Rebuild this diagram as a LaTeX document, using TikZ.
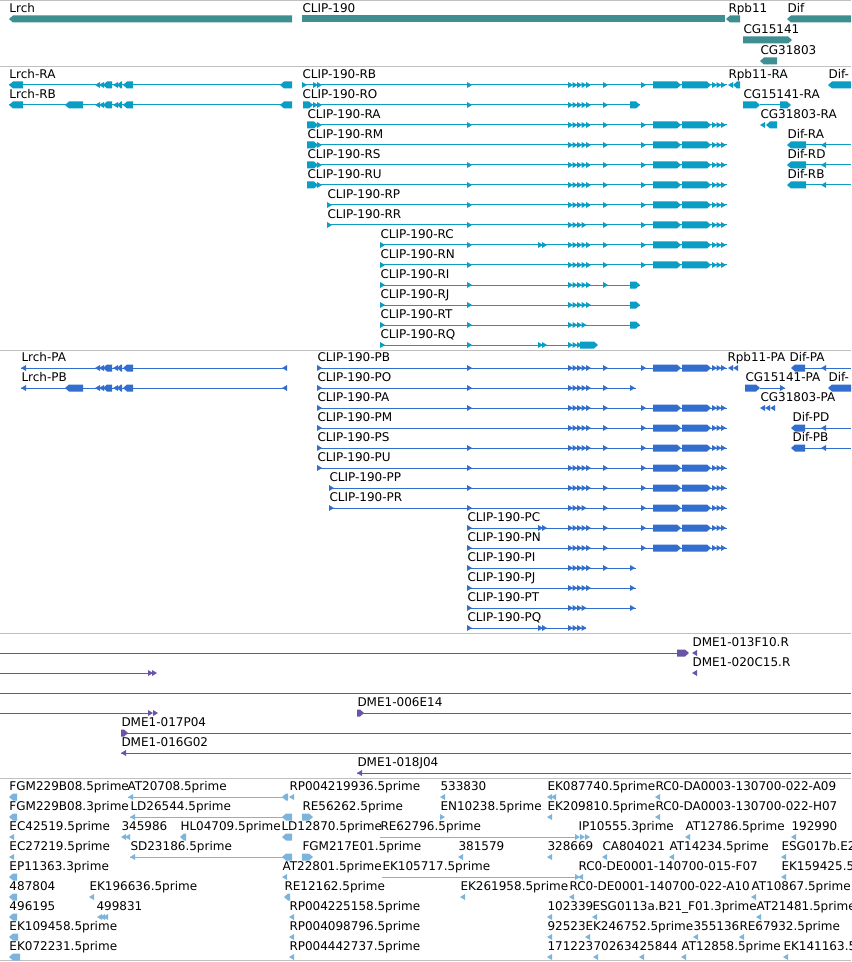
\documentclass[tikz,border=0pt]{standalone}
\usepackage{fontspec}
\setmainfont{DejaVu Sans}

\definecolor{genecol}{RGB}{62,142,146}
\definecolor{trcol}{RGB}{10,158,196}
\definecolor{prcol}{RGB}{50,110,205}
\definecolor{dmecol}{RGB}{106,84,168}
\definecolor{estcol}{RGB}{125,180,220}
\definecolor{sepcol}{RGB}{192,192,192}

\tikzset{lbl/.style={anchor=base west, inner sep=0pt, font=\fontsize{9}{11}\selectfont}}

% small strand arrows and exons (x in px, y in px)
\newcommand{\fw}[2]{\fill (#1,#2-3) -- (#1+5,#2) -- (#1,#2+3) -- cycle;}
\newcommand{\rv}[2]{\fill (#1,#2) -- (#1+5,#2-3) -- (#1+5,#2+3) -- cycle;}
\newcommand{\exR}[3]{\fill (#1,#3-3.5) -- (#2-4,#3-3.5) -- (#2,#3) -- (#2-4,#3+3.5) -- (#1,#3+3.5) -- cycle;}
\newcommand{\exL}[3]{\fill (#1,#3) -- (#1+4,#3-3.5) -- (#2,#3-3.5) -- (#2,#3+3.5) -- (#1+4,#3+3.5) -- cycle;}
\newcommand{\clus}[3]{\foreach \k in {1,...,#3}{\fw{#1+4.5*\k-4.5}{#2}}}
\newcommand{\cliptail}[1]{\fw{603}{#1}\fw{641}{#1}\exR{653}{681}{#1}\exR{682}{711}{#1}\clus{712}{#1}{3}}
\newcommand{\lrchmid}[1]{\rv{95}{#1}\rv{99}{#1}\exL{103}{112}{#1}\rv{113}{#1}\exL{117}{122}{#1}\exL{123}{133}{#1}}

\begin{document}
\begin{tikzpicture}[x=0.75pt,y=-0.75pt,line width=0.75pt]
\useasboundingbox (0,0) rectangle (851,962);
\fill[white] (0,0) rectangle (851,962);
\clip (0,0) rectangle (851,962);

% track separators
\draw[sepcol] (0,1) -- (851,1);
\draw[sepcol] (0,66.5) -- (851,66.5);
\draw[sepcol] (0,350) -- (851,350);
\draw[sepcol] (0,633) -- (851,633);
\draw[sepcol] (0,778) -- (851,778);
\draw[sepcol] (0,960) -- (851,960);

% genes
\begin{scope}[fill=genecol]
\node[lbl] (gLrch) at (9,12.5) {Lrch};
\node[lbl] (gClip) at (302,12.5) {CLIP-190};
\node[lbl] (gRpb) at (728,12.5) {Rpb11};
\node[lbl] (gDif) at (787,12.5) {Dif};
\node[lbl] (gCG15) at (743,33.5) {CG15141};
\node[lbl] (gCG31) at (760,54.5) {CG31803};
\exL{9}{292}{19}
\fill (302,15.5) rectangle (725,22.5);
\exL{726}{740}{19}
\exL{787}{860}{19}
\exR{743}{792}{40}
\exL{760}{777}{61}
\end{scope}

% transcripts
\begin{scope}[fill=trcol, draw=trcol]
\node[lbl] (tLrchA) at (9,78.5) {Lrch-RA};
\draw (9,85) -- (292,85); \exL{9}{23}{85} \lrchmid{85} \exL{280}{292}{85}
\node[lbl] (tLrchB) at (9,98.5) {Lrch-RB};
\draw (9,105) -- (292,105); \exL{9}{23}{105} \exL{65}{83}{105} \lrchmid{105} \exL{280}{292}{105}

\node[lbl] (tRB) at (302,78.5) {CLIP-190-RB};
\draw (302,85) -- (727,85); \fw{302}{85} \fw{313}{85}\fw{317}{85} \fw{467}{85} \clus{568}{85}{5} \cliptail{85}
\node[lbl] (tRO) at (302,98.5) {CLIP-190-RO};
\draw (303,105) -- (640,105); \exR{303}{313}{105} \fw{313}{105}\fw{317}{105} \fw{467}{105} \clus{568}{105}{5} \fw{603}{105} \exR{630}{640}{105}
\node[lbl] (tRA) at (307,118.5) {CLIP-190-RA};
\draw (307,125) -- (727,125); \exR{307}{318}{125} \fw{317}{125} \fw{467}{125} \clus{568}{125}{5} \cliptail{125}
\node[lbl] (tRM) at (307,138.5) {CLIP-190-RM};
\draw (307,145) -- (727,145); \exR{307}{318}{145} \fw{317}{145} \clus{568}{145}{5} \cliptail{145}
\node[lbl] (tRS) at (307,158.5) {CLIP-190-RS};
\draw (307,165) -- (727,165); \exR{307}{318}{165} \fw{317}{165} \fw{467}{165} \clus{568}{165}{5} \cliptail{165}
\node[lbl] (tRU) at (307,178.5) {CLIP-190-RU};
\draw (307,185) -- (727,185); \exR{307}{318}{185} \fw{317}{185} \fw{467}{185} \clus{568}{185}{5} \cliptail{185}
\node[lbl] (tRP) at (327,198.5) {CLIP-190-RP};
\draw (327,205) -- (727,205); \fw{327}{205} \fw{467}{205} \clus{568}{205}{5} \cliptail{205}
\node[lbl] (tRR) at (327,218.5) {CLIP-190-RR};
\draw (327,225) -- (727,225); \fw{327}{225} \fw{467}{225} \clus{568}{225}{4} \cliptail{225}
\node[lbl] (tRC) at (380,238.5) {CLIP-190-RC};
\draw (380,245) -- (727,245); \fw{380}{245} \fw{467}{245} \fw{538}{245}\fw{542}{245} \clus{568}{245}{5} \cliptail{245}
\node[lbl] (tRN) at (380,258.5) {CLIP-190-RN};
\draw (380,265) -- (727,265); \fw{380}{265} \fw{467}{265} \clus{568}{265}{5} \cliptail{265}
\node[lbl] (tRI) at (380,278.5) {CLIP-190-RI};
\draw (380,285) -- (640,285); \fw{380}{285} \fw{467}{285} \clus{568}{285}{5} \fw{603}{285} \exR{630}{640}{285}
\node[lbl] (tRJ) at (380,298.5) {CLIP-190-RJ};
\draw (380,305) -- (640,305); \fw{380}{305} \fw{467}{305} \clus{568}{305}{5} \exR{630}{640}{305}
\node[lbl] (tRT) at (380,318.5) {CLIP-190-RT};
\draw (380,325) -- (640,325); \fw{380}{325} \fw{467}{325} \clus{568}{325}{4} \exR{630}{640}{325}
\node[lbl] (tRQ) at (380,338.5) {CLIP-190-RQ};
\draw (380,345) -- (590,345); \fw{380}{345} \fw{467}{345} \fw{538}{345}\fw{542}{345} \clus{568}{345}{3} \exR{580}{598}{345}

\node[lbl] (tRpb) at (728,78.5) {Rpb11-RA};
\rv{728}{85}\exL{733}{740}{85}
\node[lbl] (tDifX) at (828,78.5) {Dif-};
\exL{828}{860}{85}
\node[lbl] (tCG15) at (743,98.5) {CG15141-RA};
\draw (760,105) -- (785,105); \exR{743}{760}{105} \exR{780}{791}{105}
\node[lbl] (tCG31) at (760,118.5) {CG31803-RA};
\rv{760}{125}\exL{766}{777}{125}
\node[lbl] (tDifA) at (787,138.5) {Dif-RA};
\draw (806,145) -- (851,145); \exL{787}{806}{145} \rv{821}{145}
\node[lbl] (tDifD) at (787,158.5) {Dif-RD};
\draw (806,165) -- (851,165); \exL{787}{806}{165} \rv{821}{165}
\node[lbl] (tDifB) at (787,178.5) {Dif-RB};
\draw (806,185) -- (851,185); \exL{787}{806}{185} \rv{821}{185}
\end{scope}

% proteins
\begin{scope}[fill=prcol, draw=prcol]
\node[lbl] (pLrchA) at (21,361.5) {Lrch-PA};
\draw (21,368) -- (287,368); \rv{21}{368} \lrchmid{368} \rv{282}{368}
\node[lbl] (pLrchB) at (21,381.5) {Lrch-PB};
\draw (21,388) -- (287,388); \rv{21}{388} \exL{65}{83}{388} \lrchmid{388} \rv{282}{388}

\node[lbl] (pPB) at (317,361.5) {CLIP-190-PB};
\draw (317,368) -- (727,368); \fw{317}{368} \fw{467}{368} \clus{568}{368}{5} \cliptail{368}
\node[lbl] (pPO) at (317,381.5) {CLIP-190-PO};
\draw (317,388) -- (636,388); \fw{317}{388} \fw{467}{388} \clus{568}{388}{5} \fw{603}{388} \fw{630}{388}
\node[lbl] (pPA) at (317,401.5) {CLIP-190-PA};
\draw (317,408) -- (727,408); \fw{317}{408} \fw{467}{408} \clus{568}{408}{5} \cliptail{408}
\node[lbl] (pPM) at (317,421.5) {CLIP-190-PM};
\draw (317,428) -- (727,428); \fw{317}{428} \clus{568}{428}{5} \cliptail{428}
\node[lbl] (pPS) at (317,441.5) {CLIP-190-PS};
\draw (317,448) -- (727,448); \fw{317}{448} \fw{467}{448} \clus{568}{448}{5} \cliptail{448}
\node[lbl] (pPU) at (317,461.5) {CLIP-190-PU};
\draw (317,468) -- (727,468); \fw{317}{468} \fw{467}{468} \clus{568}{468}{5} \cliptail{468}
\node[lbl] (pPP) at (329,481.5) {CLIP-190-PP};
\draw (329,488) -- (727,488); \fw{329}{488} \fw{467}{488} \clus{568}{488}{5} \cliptail{488}
\node[lbl] (pPR) at (329,501.5) {CLIP-190-PR};
\draw (329,508) -- (727,508); \fw{329}{508} \fw{467}{508} \clus{568}{508}{4} \cliptail{508}
\node[lbl] (pPC) at (467,521.5) {CLIP-190-PC};
\draw (467,528) -- (727,528); \fw{467}{528} \fw{538}{528}\fw{542}{528} \clus{568}{528}{5} \cliptail{528}
\node[lbl] (pPN) at (467,541.5) {CLIP-190-PN};
\draw (467,548) -- (727,548); \fw{467}{548} \clus{568}{548}{5} \cliptail{548}
\node[lbl] (pPI) at (467,561.5) {CLIP-190-PI};
\draw (467,568) -- (636,568); \fw{467}{568} \clus{568}{568}{5} \fw{603}{568} \fw{630}{568}
\node[lbl] (pPJ) at (467,581.5) {CLIP-190-PJ};
\draw (467,588) -- (636,588); \fw{467}{588} \clus{568}{588}{5} \fw{630}{588}
\node[lbl] (pPT) at (467,601.5) {CLIP-190-PT};
\draw (467,608) -- (636,608); \fw{467}{608} \clus{568}{608}{4} \fw{630}{608}
\node[lbl] (pPQ) at (467,621.5) {CLIP-190-PQ};
\draw (467,628) -- (586,628); \fw{467}{628} \fw{538}{628}\fw{542}{628} \clus{568}{628}{4}

\node[lbl] (pRpb) at (727,361.5) {Rpb11-PA};
\rv{728}{368}\rv{733}{368}
\node[lbl] (pDifA) at (789,361.5) {Dif-PA};
\draw (805,368) -- (851,368); \exL{791}{805}{368} \rv{821}{368}
\node[lbl] (pCG15) at (745,381.5) {CG15141-PA};
\draw (760,388) -- (785,388); \exR{745}{760}{388} \fw{780}{388}
\node[lbl] (pDifX) at (828,381.5) {Dif-};
\exL{828}{860}{388}
\node[lbl] (pCG31) at (760,401.5) {CG31803-PA};
\rv{760}{408}\rv{765}{408}\rv{770}{408}
\node[lbl] (pDifD) at (792,421.5) {Dif-PD};
\draw (805,428) -- (851,428); \exL{791}{805}{428} \rv{821}{428}
\node[lbl] (pDifB) at (792,441.5) {Dif-PB};
\draw (805,448) -- (851,448); \exL{791}{805}{448} \rv{821}{448}
\end{scope}

% BAC ends
\begin{scope}[fill=dmecol, draw=dmecol]
\draw (0,653) -- (678,653); \exR{677}{689}{653} \rv{692}{653}
\node[lbl] (b013) at (692,646.5) {DME1-013F10.R};
\node[lbl] (b020) at (692,666.5) {DME1-020C15.R};
\rv{692}{673}
\draw (0,673) -- (150,673); \fw{148}{673}\fw{152}{673}
\draw (0,693) -- (851,693);
\draw (0,713) -- (150,713); \fw{148}{713}\fw{153}{713}
\node[lbl] (b006) at (357,706.5) {DME1-006E14};
\draw (357,713) -- (851,713); \exR{357}{364}{713}
\node[lbl] (b017) at (121,726.5) {DME1-017P04};
\draw (121,733) -- (851,733); \exR{121}{128}{733}
\node[lbl] (b016) at (121,746.5) {DME1-016G02};
\draw (121,753) -- (851,753); \rv{121}{753}
\node[lbl] (b018) at (357,766.5) {DME1-018J04};
\draw (357,773) -- (851,773); \rv{357}{773}
\end{scope}

% ESTs
\begin{scope}[fill=estcol, draw=estcol]
\node[lbl] (e11) at (9,790.5) {FGM229B08.5prime};
\node[lbl] (e12) at (127,790.5) {AT20708.5prime};
\node[lbl] (e13) at (289,790.5) {RP004219936.5prime};
\node[lbl] (e14) at (440,790.5) {533830};
\node[lbl] (e15) at (547,790.5) {EK087740.5prime};
\node[lbl] (e16) at (655,790.5) {RC0-DA0003-130700-022-A09};
\exL{9}{17}{797} \draw (128,797) -- (287,797); \rv{128}{797} \exL{282}{288}{797} \rv{289}{797}
\rv{440}{797} \rv{547}{797}\rv{551}{797} \rv{655}{797}

\node[lbl] (e21) at (9,810.5) {FGM229B08.3prime};
\node[lbl] (e22) at (130,810.5) {LD26544.5prime};
\node[lbl] (e23) at (302,810.5) {RE56262.5prime};
\node[lbl] (e24) at (440,810.5) {EN10238.5prime};
\node[lbl] (e25) at (547,810.5) {EK209810.5prime};
\node[lbl] (e26) at (655,810.5) {RC0-DA0003-130700-022-H07};
\exL{9}{17}{817} \draw (130,817) -- (292,817); \rv{130}{817} \exL{282}{292}{817} \exR{302}{313}{817}
\fw{440}{817} \rv{547}{817} \rv{655}{817}

\node[lbl] (e31) at (9,830.5) {EC42519.5prime};
\node[lbl] (e32) at (121,830.5) {345986};
\node[lbl] (e33) at (180,830.5) {HL04709.5prime};
\node[lbl] (e34) at (281,830.5) {LD12870.5prime};
\node[lbl] (e35) at (380,830.5) {RE62796.5prime};
\node[lbl] (e36) at (578,830.5) {IP10555.3prime};
\node[lbl] (e37) at (685,830.5) {AT12786.5prime};
\node[lbl] (e38) at (791,830.5) {192990};
\rv{9}{837} \rv{121}{837}\rv{125}{837} \exL{180}{186}{837} \exL{282}{292}{837}
\draw (380,837) -- (575,837); \fw{575}{837} \fw{580}{837}\fw{585}{837} \rv{685}{837} \rv{791}{837}

\node[lbl] (e41) at (9,850.5) {EC27219.5prime};
\node[lbl] (e42) at (130,850.5) {SD23186.5prime};
\node[lbl] (e43) at (302,850.5) {FGM217E01.5prime};
\node[lbl] (e44) at (458,850.5) {381579};
\node[lbl] (e45) at (547,850.5) {328669};
\node[lbl] (e46) at (602,850.5) {CA804021};
\node[lbl] (e47) at (669,850.5) {AT14234.5prime};
\node[lbl] (e48) at (781,850.5) {ESG017b.E2};
\rv{9}{857} \draw (130,857) -- (292,857); \rv{130}{857} \exL{282}{292}{857} \exR{302}{313}{857}
\rv{458}{857} \rv{547}{857} \rv{602}{857} \rv{669}{857} \rv{781}{857}

\node[lbl] (e51) at (9,870.5) {EP11363.3prime};
\node[lbl] (e52) at (282,870.5) {AT22801.5prime};
\node[lbl] (e53) at (382,870.5) {EK105717.5prime};
\node[lbl] (e54) at (578,870.5) {RC0-DE0001-140700-015-F07};
\node[lbl] (e55) at (781,870.5) {EK159425.5};
\exL{9}{17}{877} \rv{282}{877} \draw (382,877) -- (575,877); \fw{575}{877} \rv{578}{877} \rv{781}{877}

\node[lbl] (e61) at (9,890.5) {487804};
\node[lbl] (e62) at (89,890.5) {EK196636.5prime};
\node[lbl] (e63) at (284,890.5) {RE12162.5prime};
\node[lbl] (e64) at (460,890.5) {EK261958.5prime};
\node[lbl] (e65) at (569,890.5) {RC0-DE0001-140700-022-A10};
\node[lbl] (e66) at (751,890.5) {AT10867.5prime};
\exL{9}{17}{897} \rv{89}{897} \exL{284}{290}{897} \rv{460}{897} \rv{569}{897} \rv{751}{897}

\node[lbl] (e71) at (9,910.5) {496195};
\node[lbl] (e72) at (96,910.5) {499831};
\node[lbl] (e73) at (289,910.5) {RP004225158.5prime};
\node[lbl] (e74) at (547,910.5) {102339};
\node[lbl] (e75) at (592,910.5) {ESG0113a.B21\_F01.3prime};
\node[lbl] (e76) at (756,910.5) {AT21481.5prime};
\exL{9}{17}{917} \rv{97}{917}\rv{100}{917}\rv{103}{917} \rv{289}{917} \rv{547}{917} \rv{592}{917} \rv{756}{917}

\node[lbl] (e81) at (9,930.5) {EK109458.5prime};
\node[lbl] (e82) at (289,930.5) {RP004098796.5prime};
\node[lbl] (e83) at (547,930.5) {92523};
\node[lbl] (e84) at (585,930.5) {EK246752.5prime};
\node[lbl] (e85) at (693,930.5) {355136};
\node[lbl] (e86) at (739,930.5) {RE67932.5prime};
\exL{9}{18}{937} \rv{289}{937} \rv{547}{937} \rv{585}{937} \rv{693}{937} \rv{739}{937}

\node[lbl] (e91) at (9,950.5) {EK072231.5prime};
\node[lbl] (e92) at (289,950.5) {RP004442737.5prime};
\node[lbl] (e93) at (547,950.5) {171223};
\node[lbl] (e94) at (593,950.5) {702634};
\node[lbl] (e95) at (639,950.5) {25844};
\node[lbl] (e96) at (681,950.5) {AT12858.5prime};
\node[lbl] (e97) at (783,950.5) {EK141163.5prime};
\exL{9}{20}{957} \rv{289}{957} \rv{547}{957} \rv{593}{957} \rv{639}{957} \rv{681}{957} \rv{783}{957}
\end{scope}

\end{tikzpicture}
\end{document}
